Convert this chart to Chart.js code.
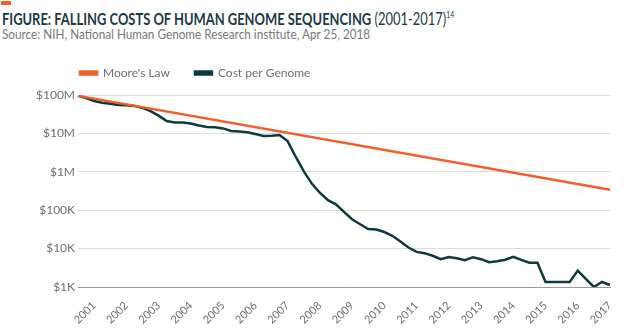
<!DOCTYPE html>
<html lang="en">
<head>
  <meta charset="UTF-8">
  <title>Falling Costs of Human Genome Sequencing</title>
  <script src="https://cdn.jsdelivr.net/npm/chart.js@4.4.1/dist/chart.umd.min.js"></script>
  <style>
    body {
      margin: 0;
      width: 640px;
      height: 332px;
      position: relative;
      background: #fff;
      font-family: 'Lato', sans-serif;
      overflow: hidden;
    }

    .flag {
      position: absolute;
      left: 1px;
      top: 1px;
      width: 10px;
      height: 4px;
      background: #f15f2a;
    }

    .title {
      position: absolute;
      left: 2px;
      top: 10px;
      font-size: 17px;
      line-height: 17px;
      color: #1b3a44;
      white-space: nowrap;
      transform: scaleX(0.76);
      transform-origin: left top;
    }

    .title b { font-weight: 700; }
    .title sup { font-size: 9px; vertical-align: 7px; line-height: 0; }

    .source {
      position: absolute;
      left: 2px;
      top: 27px;
      font-size: 14px;
      line-height: 14px;
      color: #777;
      white-space: nowrap;
      transform: scaleX(0.84);
      transform-origin: left top;
    }

    .chart-box {
      position: absolute;
      left: 0;
      top: 33px;
      width: 640px;
      height: 299px;
    }
  </style>
</head>
<body>
  <div class="flag"></div>
  <div class="title"><b>FIGURE: FALLING COSTS OF HUMAN GENOME SEQUENCING</b> (2001-2017)<sup>14</sup></div>
  <div class="source">Source: NIH, National Human Genome Research institute, Apr 25, 2018</div>
  <div class="chart-box">
    <canvas id="genomeChart"></canvas>
  </div>
  <script>
    // quarters on the x axis, only the Q1 entries get a year label
    const quarters = [
      '2000 Q3', '2000 Q4',
      '2001 Q1', '2001 Q2', '2001 Q3', '2001 Q4',
      '2002 Q1', '2002 Q2', '2002 Q3', '2002 Q4',
      '2003 Q1', '2003 Q2', '2003 Q3', '2003 Q4',
      '2004 Q1', '2004 Q2', '2004 Q3', '2004 Q4',
      '2005 Q1', '2005 Q2', '2005 Q3', '2005 Q4',
      '2006 Q1', '2006 Q2', '2006 Q3', '2006 Q4',
      '2007 Q1', '2007 Q2', '2007 Q3', '2007 Q4',
      '2008 Q1', '2008 Q2', '2008 Q3', '2008 Q4',
      '2009 Q1', '2009 Q2', '2009 Q3', '2009 Q4',
      '2010 Q1', '2010 Q2', '2010 Q3', '2010 Q4',
      '2011 Q1', '2011 Q2', '2011 Q3', '2011 Q4',
      '2012 Q1', '2012 Q2', '2012 Q3', '2012 Q4',
      '2013 Q1', '2013 Q2', '2013 Q3', '2013 Q4',
      '2014 Q1', '2014 Q2', '2014 Q3', '2014 Q4',
      '2015 Q1', '2015 Q2', '2015 Q3', '2015 Q4',
      '2016 Q1', '2016 Q2', '2016 Q3', '2016 Q4',
      '2017 Q1'
    ];

    // cost per genome in US dollars
    const costPerGenome = [
      95e6, 83e6,
      70e6, 63e6, 59e6, 55e6,
      54e6, 52e6, 46e6, 38e6,
      29e6, 21e6, 19.3e6, 19.3e6,
      18e6, 16e6, 14.6e6, 14.4e6,
      13.5e6, 11.6e6, 11.2e6, 10.7e6,
      9.6e6, 8.6e6, 8.75e6, 9.1e6,
      6.3e6, 2.47e6, 1.04e6, 494e3,
      285e3, 183e3, 142e3, 90e3,
      58e3, 43e3, 32.2e3, 31.3e3,
      27e3, 21.5e3, 15.3e3, 10.7e3,
      8.2e3, 7.6e3, 6.5e3, 5.3e3,
      6e3, 5.6e3, 5e3, 5.9e3,
      5.3e3, 4.4e3, 4.7e3, 5.15e3,
      6.1e3, 5.1e3, 4.3e3, 4.3e3,
      1.35e3, 1.35e3, 1.35e3, 1.35e3,
      2.67e3, 1.62e3, 1.0e3, 1.35e3,
      1.13e3
    ];

    // Moore's Law is a straight line on the log axis: first and last point
    const mooresLaw = [
      { x: '2000 Q3', y: 95e6 },
      { x: '2017 Q1', y: 3.42e5 }
    ];

    const yTickValues = [1e3, 1e4, 1e5, 1e6, 1e7, 1e8];
    const yTickLabels = ['$1K', '$10K', '$100K', '$1M', '$10M', '$100M'];

    const orange = '#f15f2a';
    const darkTeal = '#0e3a3f';
    const grey = '#6e6e6e';

    // legend sits at the left edge of the plot, a little above its box
    const legendPlacement = {
      id: 'legendPlacement',
      afterLayout(chart) {
        const legend = chart.legend;
        legend.left = chart.chartArea.left - 23;
        legend.top -= 6;
      }
    };

    new Chart(document.getElementById('genomeChart'), {
      type: 'line',
      data: {
        labels: quarters,
        datasets: [
          {
            label: "Moore's Law",
            data: mooresLaw,
            borderColor: orange,
            backgroundColor: orange,
            borderWidth: 2.5,
            pointRadius: 0,
            tension: 0
          },
          {
            label: 'Cost per Genome',
            data: costPerGenome,
            borderColor: darkTeal,
            backgroundColor: darkTeal,
            borderWidth: 2.5,
            pointRadius: 0,
            tension: 0
          }
        ]
      },
      options: {
        responsive: true,
        maintainAspectRatio: false,
        animation: false,
        layout: { padding: { left: 0, right: 30, top: 15, bottom: 0 } },
        plugins: {
          legend: {
            position: 'top',
            align: 'start',
            fullSize: false,
            labels: {
              boxWidth: 17,
              boxHeight: 3,
              padding: 25,
              color: grey,
              font: { family: 'Lato', size: 12 }
            }
          },
          tooltip: { enabled: false }
        },
        scales: {
          x: {
            type: 'category',
            grid: { display: false },
            border: { display: true, color: '#9a9a9a', width: 1 },
            ticks: {
              autoSkip: false,
              minRotation: 45,
              maxRotation: 45,
              padding: 4,
              color: grey,
              font: { family: 'Lato', size: 11 },
              callback: function (value) {
                const q = quarters[value];
                return q.endsWith('Q1') ? q.slice(0, 4) : '';
              }
            },
            afterFit(scale) { scale.height = 45; }
          },
          y: {
            type: 'logarithmic',
            min: 1e3,
            max: 1e8,
            border: { display: false },
            grid: { color: '#dcdcdc', lineWidth: 1, drawTicks: false },
            ticks: {
              padding: 3,
              color: grey,
              font: { family: 'Lato', size: 12 },
              callback: function (value) {
                const i = yTickValues.indexOf(value);
                return i >= 0 ? yTickLabels[i] : '';
              }
            },
            afterBuildTicks(scale) {
              scale.ticks = yTickValues.map(v => ({ value: v }));
            },
            afterFit(scale) { scale.width = 78; }
          }
        }
      },
      plugins: [legendPlacement]
    });
  </script>
</body>
</html>
